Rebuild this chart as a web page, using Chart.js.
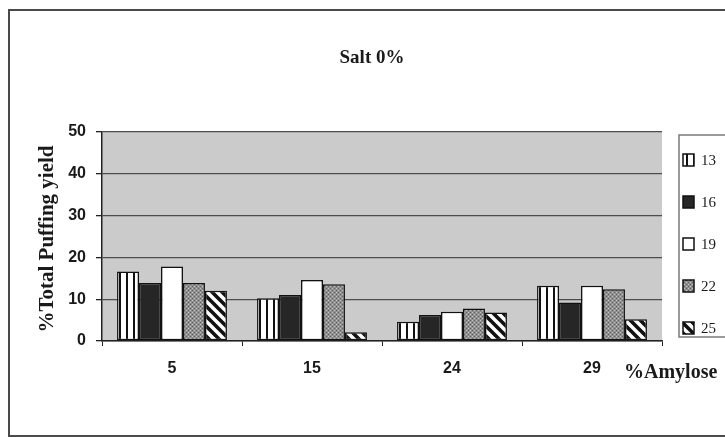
<!DOCTYPE html>
<html>
<head>
<meta charset="utf-8">
<script src="https://cdn.jsdelivr.net/npm/chart.js@4/dist/chart.umd.min.js"></script>
<style>
  html, body { margin: 0; padding: 0; background: #ffffff; }
  #wrap { width: 725px; height: 437px; position: relative; }
</style>
</head>
<body>
<div id="wrap"><canvas id="c" width="725" height="437"></canvas></div>
<script>
// Amylose content groups (x categories)
const amyloseLevels = ['5', '15', '24', '29'];
// Series labels (moisture levels)
const seriesLabels = ['13', '16', '19', '22', '25'];
// %Total puffing yield per series
const yield13 = [16.6, 10.2, 4.6, 13.2];
const yield16 = [13.9, 11.0, 6.2, 9.2];
const yield19 = [17.8, 14.6, 7.0, 13.2];
const yield22 = [13.9, 13.6, 7.8, 12.4];
const yield25 = [12.0, 2.1, 6.8, 5.2];
const yTicks = [0, 10, 20, 30, 40, 50];

const chartTitle = 'Salt 0%';
const yTitle = '%Total Puffing yield';
const xTitle = '%Amylose';

// ---- fill patterns ----
function tile(w, h, paint) {
  const t = document.createElement('canvas');
  t.width = w; t.height = h;
  const g = t.getContext('2d');
  paint(g, w, h);
  return document.createElement('canvas').getContext('2d').createPattern(t, 'repeat');
}
const vStripes = tile(7, 7, (g, w, h) => {
  g.fillStyle = '#ffffff'; g.fillRect(0, 0, w, h);
  g.fillStyle = '#111111'; g.fillRect(0, 0, 2, h);
});
const speckle = tile(4, 4, (g, w, h) => {
  g.fillStyle = '#8f8f8f'; g.fillRect(0, 0, w, h);
  g.fillStyle = '#c4c4c4'; g.fillRect(0, 0, 1, 1); g.fillRect(2, 2, 1, 1);
  g.fillStyle = '#5e5e5e'; g.fillRect(2, 0, 1, 1); g.fillRect(0, 2, 1, 1);
});
const diagStripes = tile(10, 10, (g, w, h) => {
  g.fillStyle = '#ffffff'; g.fillRect(0, 0, w, h);
  g.strokeStyle = '#111111'; g.lineWidth = 3.6;
  g.beginPath();
  g.moveTo(-5, -5); g.lineTo(15, 15);
  g.moveTo(-5, 5); g.lineTo(5, 15);
  g.moveTo(5, -5); g.lineTo(15, 5);
  g.stroke();
});
const fills = [vStripes, '#262626', '#ffffff', speckle, diagStripes];
const seriesValues = [yield13, yield16, yield19, yield22, yield25];

const datasets = seriesLabels.map((lab, i) => ({
  label: lab,
  data: seriesValues[i],
  backgroundColor: fills[i],
  borderColor: '#111111',
  borderWidth: 1.5,
  borderSkipped: false,
  categoryPercentage: 0.785,
  barPercentage: 1.0
}));

// plot background, frame, titles and legend
const decor = {
  id: 'decor',
  beforeDraw(chart) {
    const { ctx, chartArea: a } = chart;
    ctx.save();
    ctx.fillStyle = '#ffffff';
    ctx.fillRect(0, 0, chart.width, chart.height);
    ctx.fillStyle = '#cbcbcb';
    ctx.fillRect(a.left, a.top, a.right - a.left, a.bottom - a.top);
    ctx.restore();
  },
  afterDraw(chart) {
    const { ctx, chartArea: a } = chart;
    ctx.save();
    // outer frame
    ctx.strokeStyle = '#4a4a4a';
    ctx.lineWidth = 2;
    ctx.strokeRect(9, 10, 800, 426);

    ctx.fillStyle = '#1a1a1a';
    // chart title
    ctx.font = 'bold 19px "Liberation Serif", "Times New Roman", serif';
    ctx.textAlign = 'center';
    ctx.textBaseline = 'middle';
    ctx.fillText(chartTitle, 372, 58);

    // x axis title
    ctx.font = 'bold 20px "Liberation Serif", "Times New Roman", serif';
    ctx.textAlign = 'left';
    ctx.fillText(xTitle, 624, 373);

    // y axis title
    ctx.save();
    ctx.translate(48, 239);
    ctx.rotate(-Math.PI / 2);
    ctx.font = 'bold 21px "Liberation Serif", "Times New Roman", serif';
    ctx.textAlign = 'center';
    ctx.fillText(yTitle, 0, 0);
    ctx.restore();

    // legend
    ctx.strokeStyle = '#7a7a7a';
    ctx.lineWidth = 1.5;
    ctx.strokeRect(679, 135, 80, 202);
    ctx.font = '15px "Liberation Serif", "Times New Roman", serif';
    ctx.textAlign = 'left';
    ctx.textBaseline = 'middle';
    chart.data.datasets.forEach((ds, i) => {
      const cy = 160 + i * 42;
      ctx.fillStyle = ds.backgroundColor;
      ctx.fillRect(683, cy - 6, 11, 12);
      ctx.strokeStyle = '#111111';
      ctx.lineWidth = 1.5;
      ctx.strokeRect(683, cy - 6, 11, 12);
      ctx.fillStyle = '#1a1a1a';
      ctx.fillText(ds.label, 701, cy + 1);
    });
    ctx.restore();
  }
};

new Chart(document.getElementById('c'), {
  type: 'bar',
  data: { labels: amyloseLevels, datasets },
  options: {
    responsive: false,
    animation: false,
    layout: { padding: { top: 132, right: 63, left: 0, bottom: 0 } },
    plugins: { legend: { display: false }, title: { display: false }, tooltip: { enabled: false } },
    scales: {
      x: {
        offset: true,
        afterFit(s) { s.height = 96; },
        grid: { offset: true, drawOnChartArea: false, drawTicks: true, tickLength: 5, color: '#222222', lineWidth: 1 },
        border: { display: true, color: '#222222', width: 1.5 },
        ticks: { color: '#1a1a1a', padding: 13, font: { family: '"Liberation Sans", Arial, sans-serif', size: 16, weight: 'bold' } }
      },
      y: {
        min: 0, max: 50,
        afterFit(s) { s.width = 102; },
        afterBuildTicks(s) { s.ticks = yTicks.map(v => ({ value: v })); },
        grid: { color: '#4d4d4d', lineWidth: 1.3, tickLength: 6, drawTicks: true, tickColor: '#222222' },
        border: { display: true, color: '#222222', width: 1.5 },
        ticks: { color: '#1a1a1a', padding: 10, font: { family: '"Liberation Sans", Arial, sans-serif', size: 16, weight: 'bold' } }
      }
    }
  },
  plugins: [decor]
});
</script>
</body>
</html>
